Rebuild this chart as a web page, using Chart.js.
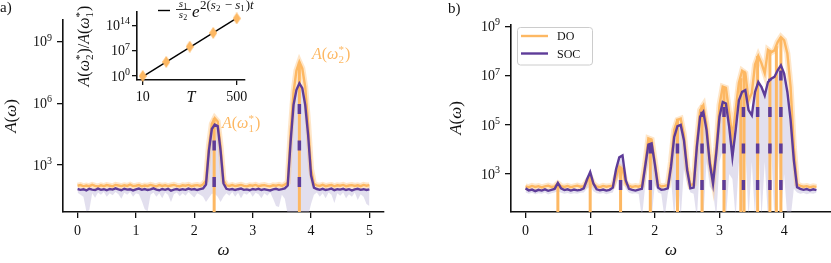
<!DOCTYPE html>
<html>
<head>
<meta charset="utf-8">
<title>A(ω) spectra</title>
<script src="https://cdn.jsdelivr.net/npm/chart.js@4.4.1/dist/chart.umd.min.js"></script>
<style>
  html, body { margin: 0; padding: 0; background: #fff; }
  #fig { position: relative; width: 831px; height: 263px; overflow: hidden; }
  #fig canvas { position: absolute; top: 0; }
</style>
</head>
<body>
<div id="fig">
  <canvas id="chartA" width="400" height="263" style="left:0"></canvas>
  <canvas id="chartB" width="411" height="263" style="left:420px"></canvas>
  <canvas id="inset" width="220" height="110" style="left:60px"></canvas>
</div>
<script>
// ---- panel a : omega grid and log10 A(omega)
const omegaA = [0,0.05,0.1,0.15,0.2,0.25,0.3,0.35,0.4,0.45,
  0.5,0.55,0.6,0.65,0.7,0.75,0.8,0.85,0.9,0.95,
  1,1.05,1.1,1.15,1.2,1.25,1.3,1.35,1.4,1.45,
  1.5,1.55,1.6,1.65,1.7,1.75,1.8,1.85,1.9,1.95,
  2,2.05,2.1,2.15,2.2,2.25,2.3,2.35,2.4,2.45,
  2.5,2.55,2.6,2.65,2.7,2.75,2.8,2.85,2.9,2.95,
  3,3.05,3.1,3.15,3.2,3.25,3.3,3.35,3.4,3.45,
  3.5,3.55,3.6,3.65,3.7,3.75,3.8,3.85,3.9,3.95,
  4,4.05,4.1,4.15,4.2,4.25,4.3,4.35,4.4,4.45,
  4.5,4.55,4.6,4.65,4.7,4.75,4.8,4.85,4.9,4.95,
  5];
const socA = [1.83,1.79,1.82,1.76,1.84,1.80,1.78,1.85,1.79,1.82,
  1.77,1.83,1.80,1.86,1.81,1.77,1.84,1.80,1.82,1.76,
  1.81,1.85,1.79,1.83,1.78,1.81,1.86,1.80,1.77,1.83,
  1.79,1.84,1.75,1.80,1.83,1.78,1.82,1.79,1.85,1.80,
  1.83,1.78,1.82,1.86,2.05,3.70,4.75,4.97,4.90,3.70,
  2.10,1.84,1.80,1.83,1.78,1.82,1.85,1.79,1.81,1.77,
  1.83,1.80,1.84,1.78,1.82,1.79,1.76,1.81,1.84,1.79,
  1.82,1.86,2.00,4.14,5.93,6.66,6.98,6.74,5.93,4.46,
  2.50,1.90,1.83,1.79,1.84,1.78,1.81,1.85,1.77,1.82,
  1.80,1.84,1.78,1.82,1.76,1.81,1.84,1.79,1.82,1.78,
  1.81];
const doA = [1.99,2.02,1.96,2.00,1.97,2.03,1.98,1.95,2.01,1.97,
  2.02,1.99,1.96,2.03,2.00,1.97,2.01,1.98,2.04,1.97,
  1.99,2.02,1.96,2.00,1.98,2.03,1.99,1.96,2.02,1.98,
  2.01,1.97,2.00,2.03,1.98,1.96,2.01,1.99,2.03,1.97,
  2.00,2.02,1.98,2.05,2.25,3.95,5.00,5.28,5.12,3.92,
  2.25,2.01,1.98,2.02,1.97,2.00,2.03,1.98,1.96,2.01,
  1.99,2.03,1.97,2.00,2.02,1.98,1.96,2.01,1.99,2.03,
  1.98,2.04,2.15,4.60,6.55,7.60,8.02,7.70,6.80,5.00,
  2.80,2.08,2.01,1.98,2.03,1.97,2.00,2.02,1.96,2.01,
  1.99,2.03,1.97,2.00,2.02,1.98,2.01,1.97,2.03,1.99,
  2.02];
const socLowA = [1.65,1.55,1.45,0.75,0.80,1.62,1.40,1.66,1.55,1.68,
  1.45,1.62,1.52,1.68,1.58,1.35,1.65,1.55,1.68,1.45,
  1.62,1.58,1.25,0.85,0.75,1.55,1.66,1.45,1.62,1.38,
  1.66,1.55,1.20,1.58,1.66,1.48,1.62,1.50,1.68,1.55,
  1.42,1.62,1.55,1.45,1.20,1.40,1.60,1.60,1.45,1.20,
  1.45,1.62,1.50,1.68,1.45,1.65,1.38,1.62,1.55,1.68,
  1.45,1.65,1.58,1.38,1.62,1.50,1.66,1.35,1.00,0.95,
  1.55,1.35,0.60,0.50,0.60,0.50,1.00,0.50,0.60,0.50,
  1.10,1.55,1.66,1.45,1.62,1.38,1.66,1.55,1.15,1.62,
  1.50,1.66,1.38,1.58,1.45,1.66,1.30,1.58,1.45,1.10,
  1.00];
const peakOmegaA = [2.34, 3.80];
const doPeakA = [5.28, 8.02];
const socPeakA = [4.97, 6.98];

// ---- inset : ratio A(w2*)/A(w1*) against T
const insetT = [10, 132.5, 255, 377.5, 500];
const ratioLog = [0.0, 3.9, 8.1, 11.9, 15.9];
const fitT = [10, 500];
const fitLog = [-0.15, 15.95];

// ---- panel b
const omegaB = [0,0.05,0.1,0.15,0.2,0.25,0.3,0.35,0.4,0.45,
  0.5,0.55,0.6,0.65,0.7,0.75,0.8,0.85,0.9,0.95,
  1,1.05,1.1,1.15,1.2,1.25,1.3,1.35,1.4,1.45,
  1.5,1.55,1.6,1.65,1.7,1.75,1.8,1.85,1.9,1.95,
  2,2.05,2.1,2.15,2.2,2.25,2.3,2.35,2.4,2.45,
  2.5,2.55,2.6,2.65,2.7,2.75,2.8,2.85,2.9,2.95,
  3,3.05,3.1,3.15,3.2,3.25,3.3,3.35,3.4,3.45,
  3.5,3.55,3.6,3.65,3.7,3.75,3.8,3.85,3.9,3.95,
  4,4.05,4.1,4.15,4.2,4.25,4.3,4.35,4.4,4.45,
  4.5];
const socB = [2.42,2.34,2.37,2.31,2.36,2.33,2.38,2.32,2.36,2.40,
  2.64,2.42,2.35,2.38,2.33,2.37,2.34,2.36,2.42,2.78,
  3.08,2.62,2.38,2.34,2.37,2.33,2.36,2.45,3.20,3.68,
  3.76,2.75,2.40,2.36,2.33,2.37,2.40,3.30,4.20,4.25,
  3.40,2.45,2.36,2.38,2.42,3.30,4.51,4.95,5.00,4.38,
  3.16,2.42,2.45,4.11,5.33,5.53,4.79,3.43,2.62,3.84,
  5.33,5.93,5.87,4.92,3.70,4.79,6.00,6.34,6.41,5.60,
  5.39,6.34,6.74,6.54,6.20,6.74,6.88,6.95,7.22,7.42,
  7.09,6.34,5.20,3.57,2.47,2.40,2.36,2.39,2.34,2.38,
  2.35];
const doB = [2.50,2.47,2.52,2.48,2.51,2.46,2.50,2.53,2.48,2.50,
  2.62,2.51,2.48,2.52,2.47,2.50,2.53,2.49,2.51,2.70,
  2.88,2.60,2.50,2.47,2.52,2.49,2.51,2.53,2.90,3.30,
  3.20,2.62,2.52,2.48,2.51,2.49,2.55,3.40,4.45,4.40,
  3.50,2.58,2.50,2.52,2.55,3.50,4.80,5.20,5.25,4.60,
  3.30,2.55,2.60,4.30,5.60,5.80,5.00,3.60,2.80,4.10,
  5.80,6.55,6.50,5.50,4.50,5.60,6.70,7.20,7.10,6.00,
  6.30,7.45,7.80,7.50,7.10,8.05,7.95,8.03,8.37,8.57,
  8.44,7.90,6.54,4.10,2.60,2.52,2.49,2.51,2.47,2.50,
  2.48];
const socLowB = [2.25,2.20,2.24,2.18,2.22,2.20,2.25,2.17,2.22,2.25,
  2.30,2.24,2.20,2.23,2.19,2.22,2.20,2.24,2.25,2.40,
  2.50,2.30,2.22,2.20,2.23,2.18,2.22,2.25,2.60,3.00,
  3.10,2.40,2.24,2.20,2.22,2.19,1.20,2.50,3.50,1.20,
  2.60,2.25,2.20,1.20,2.20,2.80,1.20,3.00,1.20,3.20,
  2.60,2.25,2.20,1.20,3.50,1.20,3.50,2.50,2.30,1.20,
  3.50,4.00,1.20,3.00,2.80,1.20,3.50,1.20,4.00,1.20,
  3.50,1.20,4.50,1.20,3.50,1.20,4.00,1.20,4.50,1.20,
  3.00,1.20,1.20,2.40,2.25,2.20,2.23,2.18,2.22,2.20,
  2.24];
const doPeakOmegaB = [0.50, 1.00, 1.47, 1.93, 2.35, 2.73, 3.07, 3.33, 3.38, 3.59, 3.78, 3.88, 3.95];
const doPeakB = [2.62, 2.88, 3.30, 4.45, 5.25, 5.80, 6.55, 6.90, 7.20, 7.80, 8.05, 8.20, 8.57];
const socPeakOmegaB = [1.47, 1.93, 2.35, 2.73, 3.07, 3.37, 3.59, 3.78, 3.95];
const socPeakB = [3.76, 4.25, 5.00, 5.53, 5.93, 6.41, 6.74, 6.88, 7.42];
const legendLabels = ['DO', 'SOC'];

// ---- styles
const SERIF = '"Liberation Serif", "DejaVu Serif", serif';
const INK = '#111111';
const ORANGE = '#fdb863';
const PURPLE = '#5e3c99';
const LAVENDER = 'rgba(178, 171, 210, 0.38)';
const TICK = 14;

// small text-with-sub/superscript helper
function rich(ctx, x, y, parts, size, color, align) {
  const font = (sz, it) => (it ? 'italic ' : '') + sz + 'px ' + SERIF;
  const small = Math.round(size * 0.7);
  const items = parts.map(p => (typeof p === 'string' ? { t: p } : { ...p }));
  items.forEach(p => {
    if (p.t !== undefined) { ctx.font = font(size, p.i); p.w = ctx.measureText(p.t).width; }
    else { ctx.font = font(small, false); p.w = Math.max(ctx.measureText(p.sub || '').width, ctx.measureText(p.sup || '').width) + 1; }
  });
  const total = items.reduce((s, p) => s + p.w, 0);
  let cx = align === 'center' ? x - total / 2 : (align === 'right' ? x - total : x);
  ctx.save();
  ctx.fillStyle = color; ctx.textAlign = 'left'; ctx.textBaseline = 'alphabetic';
  items.forEach(p => {
    if (p.t !== undefined) { ctx.font = font(size, p.i); ctx.fillText(p.t, cx, y); }
    else {
      ctx.font = font(small, false);
      if (p.sub) ctx.fillText(p.sub, cx, y + size * 0.22);
      if (p.sup) ctx.fillText(p.sup, cx, y - size * 0.4);
    }
    cx += p.w;
  });
  ctx.restore();
  return total;
}
function richRot(ctx, x, y, parts, size, color) {
  ctx.save();
  ctx.translate(x, y);
  ctx.rotate(-Math.PI / 2);
  rich(ctx, 0, size * 0.33, parts, size, color, 'center');
  ctx.restore();
}
const A_OMEGA = [{ t: 'A', i: true }, '(', { t: 'ω', i: true }, ')'];
const aStar = k => [{ t: 'A', i: true }, '(', { t: 'ω', i: true }, { sub: k, sup: '*' }, ')'];

// "10^n" labels of a log axis, drawn next to the tick marks
function drawPowTicks(chart, size, gap) {
  const s = chart.scales.y, ctx = chart.ctx;
  s.ticks.forEach(t => {
    const e = Math.round(Math.log10(t.value));
    const y = s.getPixelForValue(t.value);
    rich(ctx, s.right - gap, y + size * 0.33, ['10', { sup: String(e) }], size, INK, 'right');
  });
}

// axes in the matplotlib look: left + bottom spines, outward ticks
function axisX(min, max, ticks, height, o = {}) {
  return {
    type: 'linear', min, max,
    afterBuildTicks: s => { s.ticks = ticks.map(v => ({ value: v })); },
    afterFit: s => { s.height = height; },
    ticks: { font: { family: SERIF, size: o.size || TICK }, color: INK, padding: o.pad ?? 5, maxRotation: 0, autoSkip: false, callback: v => String(v) },
    grid: { drawOnChartArea: false, drawTicks: true, tickLength: o.tick || 6, color: INK, lineWidth: 1.3 },
    border: { display: true, color: INK, width: 1.6 },
    title: o.title ? { display: true, text: o.title, color: INK, font: { family: SERIF, size: o.titleSize || 17, style: 'italic' }, padding: { top: 0, bottom: o.titlePad ?? 2 } } : { display: false }
  };
}
function axisYLog(minExp, maxExp, tickExps, width, o = {}) {
  return {
    type: 'logarithmic', min: 10 ** minExp, max: 10 ** maxExp,
    afterBuildTicks: s => { s.ticks = tickExps.map(e => ({ value: 10 ** e })); },
    afterFit: s => { s.width = width; },
    ticks: { display: false },
    grid: { drawOnChartArea: false, drawTicks: true, tickLength: o.tick || 6, color: INK, lineWidth: 1.3 },
    border: { display: true, color: INK, width: 1.6 }
  };
}

function spectrum(omega, doLog, socLog, lowLog) {
  const pts = arr => omega.map((w, i) => ({ x: w, y: 10 ** arr[i] }));
  return [
    { label: 'SOC', data: pts(socLog), borderColor: PURPLE, borderWidth: 2.4, pointRadius: 0, order: 0 },
    { label: 'SOC spread', data: pts(lowLog), borderWidth: 0, borderColor: 'rgba(0,0,0,0)', backgroundColor: LAVENDER, fill: '-1', pointRadius: 0, order: 6 },
    { label: 'DO', data: pts(doLog), borderColor: ORANGE, borderWidth: 2.4, pointRadius: 0, order: 3 },
    { label: 'DO spread', data: pts(doLog), borderColor: 'rgba(253,184,99,0.35)', borderWidth: 6, pointRadius: 0, order: 4 }
  ];
}
function vLines(omegas, tops, yBottom, st) {
  return omegas.map((w, i) => ({
    label: 'peak', data: [{ x: w, y: yBottom }, { x: w, y: 10 ** tops[i] }],
    borderColor: st.color, borderWidth: st.width, borderDash: st.dash || [], borderDashOffset: st.offset || 0,
    borderCapStyle: 'butt', pointRadius: 0, order: st.order
  }));
}

const common = {
  responsive: false, animation: false, devicePixelRatio: 1, events: [],
  plugins: { legend: { display: false }, tooltip: { enabled: false } }
};

// ---- panel a
const yMinA = 0.71, yMaxA = 10.06;
new Chart(document.getElementById('chartA'), {
  type: 'line',
  data: {
    datasets: [
      ...spectrum(omegaA, doA, socA, socLowA),
      ...vLines(peakOmegaA, doPeakA, 10 ** yMinA, { color: ORANGE, width: 3, order: 2 }),
      ...vLines(peakOmegaA, socPeakA, 10 ** yMinA, { color: PURPLE, width: 3.5, dash: [10, 26.5], offset: 11.5, order: 1 })
    ]
  },
  options: {
    ...common,
    layout: { autoPadding: false, padding: { top: 20, right: 16, left: 0, bottom: 0 } },
    scales: {
      x: axisX(-0.25, 5.25, [0, 1, 2, 3, 4, 5], 51, { title: 'ω' }),
      y: axisYLog(yMinA, yMaxA, [3, 6, 9], 63)
    }
  },
  plugins: [{
    id: 'textA',
    afterDraw(chart) {
      const ctx = chart.ctx;
      drawPowTicks(chart, TICK, 10);
      rich(ctx, 0, 12, ['a)'], 15, INK);
      richRot(ctx, 10, 116, A_OMEGA, 17, INK);
      rich(ctx, 222, 128, aStar('1'), 16, ORANGE);
      rich(ctx, 312, 59, aStar('2'), 16, ORANGE);
    }
  }]
});

// ---- inset of panel a
function thinDiamond(w, h, color) {
  const c = document.createElement('canvas');
  c.width = w; c.height = h;
  const g = c.getContext('2d');
  g.fillStyle = color;
  g.beginPath(); g.moveTo(w / 2, 0); g.lineTo(w, h / 2); g.lineTo(w / 2, h); g.lineTo(0, h / 2); g.closePath(); g.fill();
  return c;
}
new Chart(document.getElementById('inset'), {
  type: 'line',
  data: {
    datasets: [
      { label: 'ratio', data: insetT.map((t, i) => ({ x: t, y: 10 ** ratioLog[i] })), showLine: false,
        pointStyle: thinDiamond(8, 12, ORANGE), pointRadius: 5, clip: false, order: 0 },
      { label: 'fit', data: fitT.map((t, i) => ({ x: t, y: 10 ** fitLog[i] })), borderColor: '#000', borderWidth: 1.4, pointRadius: 0, order: 1 }
    ]
  },
  options: {
    ...common,
    layout: { autoPadding: false, padding: { top: 12, right: 35, left: 0, bottom: 0 } },
    scales: {
      x: axisX(-19.7, 543, [10, 500], 30, { title: 'T', titleSize: 16, titlePad: 3, pad: 4, tick: 5 }),
      y: axisYLog(-1.1, 17.66, [0, 7, 14], 77, { tick: 5 })
    }
  },
  plugins: [{
    id: 'insetText',
    afterDraw(chart) {
      const ctx = chart.ctx;
      drawPowTicks(chart, TICK, 6);
      richRot(ctx, 24, 46, [...aStar('2'), '/', ...aStar('1')], 16, INK);
      // legend: line + s1/s2 e^{2(s2-s1)t}
      ctx.save();
      ctx.strokeStyle = '#000'; ctx.lineWidth = 1.4;
      ctx.beginPath(); ctx.moveTo(98, 10.5); ctx.lineTo(110, 10.5); ctx.stroke();
      ctx.lineWidth = 0.8;
      ctx.beginPath(); ctx.moveTo(116, 9.5); ctx.lineTo(131, 9.5); ctx.stroke();
      ctx.restore();
      rich(ctx, 123.5, 7, [{ t: 's', i: true }, { sub: '1' }], 11, INK, 'center');
      rich(ctx, 123.5, 18, [{ t: 's', i: true }, { sub: '2' }], 11, INK, 'center');
      rich(ctx, 132, 17, [{ t: 'e', i: true }], 17, INK);
      rich(ctx, 140, 8.5, ['2(', { t: 's', i: true }, { sub: '2' }, ' − ', { t: 's', i: true }, { sub: '1' }, ')', { t: 't', i: true }], 13, INK);
    }
  }]
});

// ---- panel b
const yMinB = 1.46, yMaxB = 9.06;
new Chart(document.getElementById('chartB'), {
  type: 'line',
  data: {
    datasets: [
      ...spectrum(omegaB, doB, socB, socLowB),
      ...vLines(doPeakOmegaB, doPeakB, 10 ** yMinB, { color: ORANGE, width: 3, order: 2 }),
      ...vLines(socPeakOmegaB, socPeakB, 10 ** yMinB, { color: PURPLE, width: 3.5, dash: [10, 26.5], offset: 14.5, order: 1 })
    ]
  },
  options: {
    ...common,
    layout: { autoPadding: false, padding: { top: 25, right: 0, left: 0, bottom: 0 } },
    scales: {
      x: axisX(-0.225, 4.725, [0, 1, 2, 3, 4], 51, { title: 'ω' }),
      y: axisYLog(yMinB, yMaxB, [3, 5, 7, 9], 91)
    }
  },
  plugins: [{
    id: 'textB',
    afterDraw(chart) {
      const ctx = chart.ctx;
      drawPowTicks(chart, TICK, 10);
      rich(ctx, 28, 13, ['b)'], 15, INK);
      richRot(ctx, 35.5, 118, A_OMEGA, 17, INK);
      // legend box
      ctx.save();
      ctx.fillStyle = 'rgba(255,255,255,0.8)';
      ctx.strokeStyle = '#cccccc'; ctx.lineWidth = 1;
      ctx.beginPath(); ctx.roundRect(97.5, 27.5, 75, 37.5, 3); ctx.fill(); ctx.stroke();
      [ORANGE, PURPLE].forEach((c, i) => {
        const y = 36 + i * 17.5;
        ctx.strokeStyle = c; ctx.lineWidth = 2.4;
        ctx.beginPath(); ctx.moveTo(101, y); ctx.lineTo(128, y); ctx.stroke();
      });
      ctx.restore();
      legendLabels.forEach((t, i) => rich(ctx, 137, 40 + i * 17.5, [t], 12, INK));
    }
  }]
});
</script>
</body>
</html>
